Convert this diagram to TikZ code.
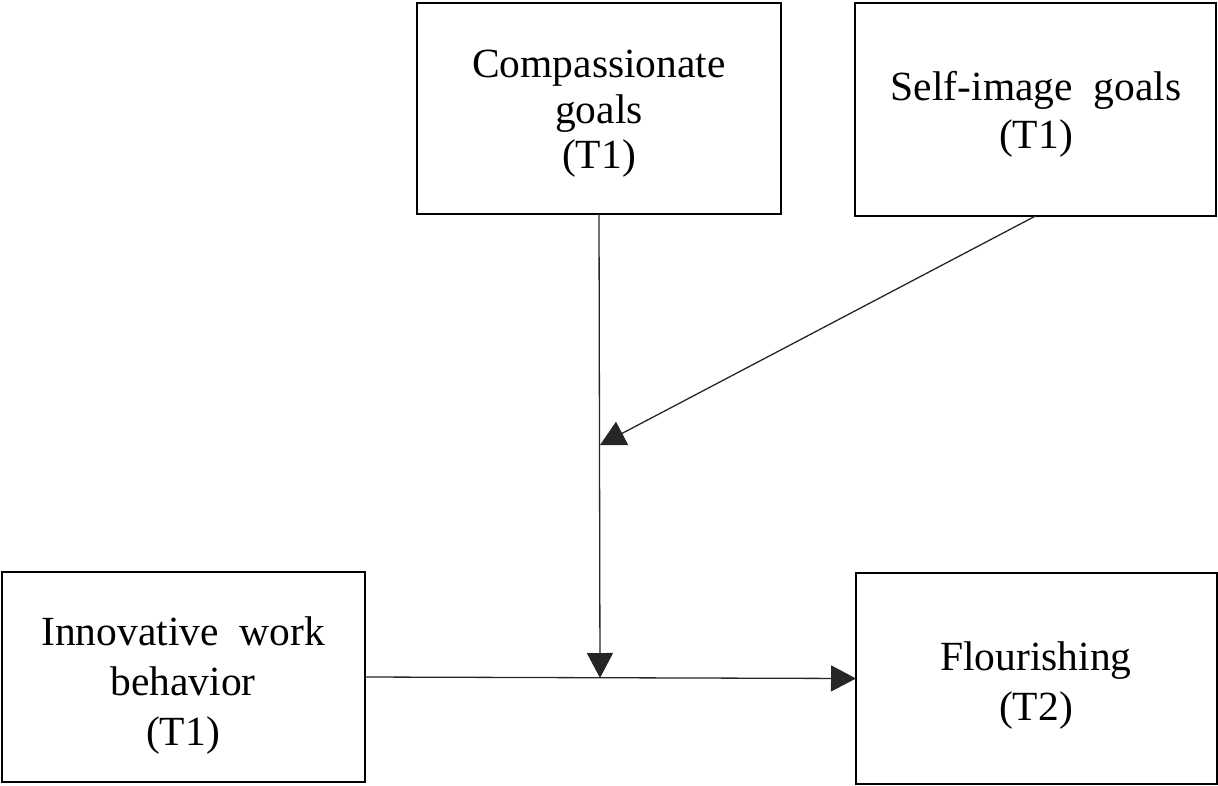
\documentclass[tikz,border=0pt]{standalone}
\usepackage{fontspec}
\setmainfont{Liberation Serif}
\usetikzlibrary{arrows.meta}
\begin{document}
\begin{tikzpicture}[x=1pt,y=-1pt,
  box/.style={draw=black,line width=2.4pt,rectangle,inner sep=0pt,outer sep=0pt},
  lbl/.style={align=center,inner sep=0pt,font=\fontsize{41.5}{50}\selectfont},
  conn/.style={draw=black!85,line width=1.3pt,-{Triangle[length=25pt,width=26pt]}}]
\useasboundingbox (0,0) rectangle (1218,785);
% boxes
\node[box,minimum width=364pt,minimum height=211pt] (comp) at (599,108.5) {};
\node[box,minimum width=361pt,minimum height=213pt] (self) at (1035.5,109.5) {};
\node[box,minimum width=363pt,minimum height=210pt] (iwb) at (183.5,677) {};
\node[box,minimum width=361pt,minimum height=211pt] (flo) at (1036.5,678.5) {};
% labels
\node[lbl,font=\fontsize{41.5}{45.5}\selectfont] (compt) at (599,114) {Compassionate\\goals\\(T1)};
\node[lbl,font=\fontsize{41.5}{48}\selectfont] (selft) at (1036,114) {Self-image\ \ goals\\(T1)};
\node[lbl] (iwbt) at (183,686) {Innovative\ \ work\\behavior\\(T1)};
\node[lbl] (flot) at (1036,686) {Flourishing\\(T2)};
% connector points
\coordinate (mid) at (600,678);
\coordinate (mod) at (600,445);
% connectors
\draw[conn] (comp.south) -- (mid);
\draw[conn] (self.south) -- (mod);
\draw[conn] (iwb.east) -- (flo.west);
\end{tikzpicture}
\end{document}
